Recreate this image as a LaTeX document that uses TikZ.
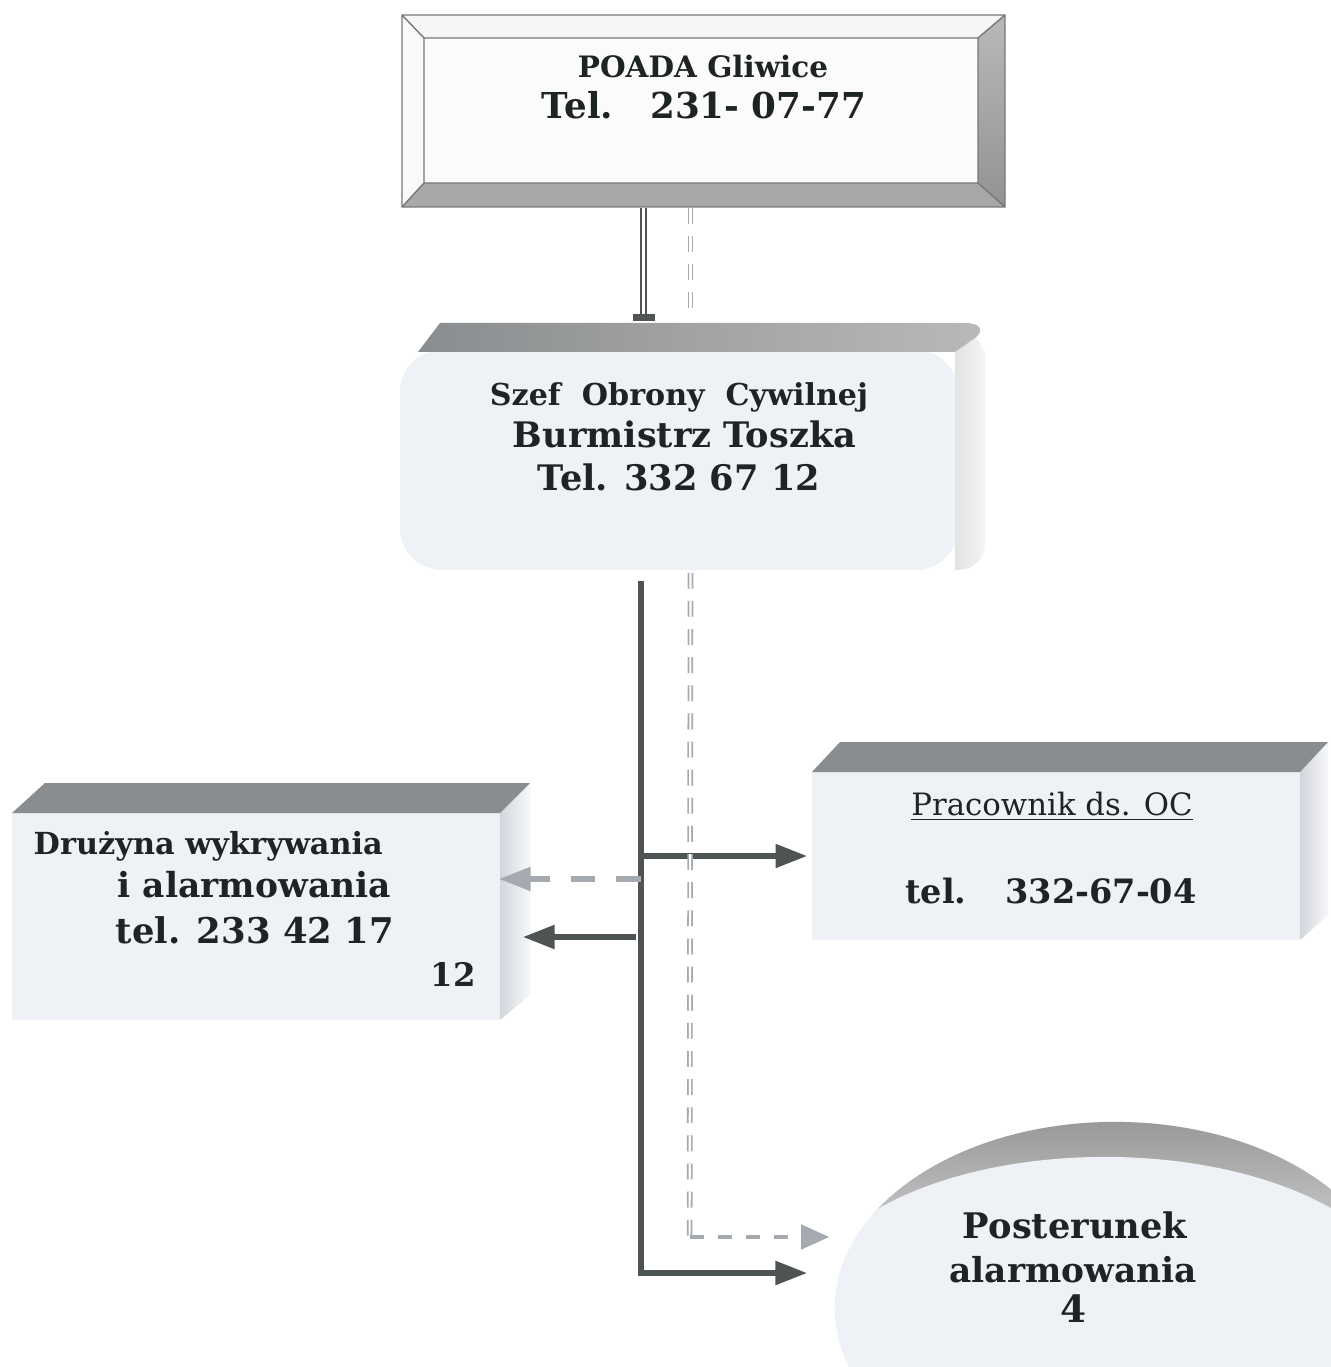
\documentclass[tikz,border=0pt]{standalone}
\usepackage{fontspec}
\setmainfont{DejaVu Serif}
\usetikzlibrary{arrows.meta,calc,shapes.geometric}
\definecolor{ink}{RGB}{30,35,35}
\definecolor{conn}{RGB}{78,84,84}
\definecolor{dconn}{RGB}{165,170,176}
\definecolor{face}{RGB}{238,241,245}
\definecolor{topface}{RGB}{138,141,143}
\definecolor{sidef}{RGB}{210,214,220}
\definecolor{edge}{RGB}{120,120,120}
\newcommand\fitw[2]{\resizebox{#1}{!}{#2}}
\begin{document}
\begin{tikzpicture}[x=0.01cm,y=-0.01cm,
  txt/.style={inner sep=0pt,text=ink,font=\bfseries},
  holder/.style={inner sep=0pt,draw=none,rectangle},
  solidarr/.style={draw=conn,line width=1.6pt,-{Triangle[length=9pt,width=6.5pt]}},
  dasharr/.style={draw=dconn,line width=1.6pt,dash pattern=on 7pt off 6pt,-{Triangle[length=9pt,width=6.5pt]}},
  thindash/.style={draw=dconn,line width=0.9pt,dash pattern=on 4pt off 4pt,-{Triangle[length=8pt,width=7pt]}},
  dline/.style={draw=dconn,line width=0.5pt,double=white,double distance=0.6pt,dash pattern=on 4.5pt off 3.5pt},
  bar/.style={draw=conn,line width=0.6pt,double=white,double distance=0.8pt},
]
\useasboundingbox (0,0) rectangle (1331,1367);
\fill[white] (0,0) rectangle (1331,1367);

% ---------- top box (bevelled frame)
\node[holder,minimum width=6.03cm,minimum height=1.92cm] (poada) at (703.5,111) {};
\fill[gray!3] (402,15) rectangle (1005,207);
\fill[gray!7] (402,15) -- (1005,15) -- (978,38) -- (424,38) -- cycle;
\fill[gray!5] (402,15) -- (424,38) -- (424,183) -- (402,207) -- cycle;
\shade[top color=gray!55,bottom color=gray!85] (1005,15) -- (1005,207) -- (978,183) -- (978,38) -- cycle;
\fill[gray!68] (402,207) -- (1005,207) -- (978,183) -- (424,183) -- cycle;
\draw[edge,line width=0.4pt] (402,15) rectangle (1005,207) (424,38) rectangle (978,183)
  (402,15) -- (424,38) (1005,15) -- (978,38) (1005,207) -- (978,183) (402,207) -- (424,183);

% ---------- second box (3D block)
\node[holder,minimum width=5.85cm,minimum height=2.48cm] (szef) at (692.5,446) {};
\fill[face,rounded corners=12pt] (400,350) rectangle (958,570);
\shade[left color=gray!22,right color=gray!8] (955,352) -- (975,336) -- (985,352) -- (985,540) .. controls (985,560) and (975,570) .. (955,570) -- cycle;
\shade[left color=topface,right color=gray!55] (418,352) -- (440,323) -- (965,323) .. controls (980,323) and (985,330) .. (975,338) -- (955,352) -- cycle;

% ---------- left box
\node[holder,minimum width=4.88cm,minimum height=2.07cm] (druz) at (256,916.5) {};
\fill[face] (12,813) rectangle (500,1020);
\shade[left color=sidef,right color=gray!6] (500,813) -- (530,783) -- (530,995) -- (500,1020) -- cycle;
\fill[topface] (45,783) -- (530,783) -- (500,813) -- (12,813) -- cycle;

% ---------- right box
\node[holder,minimum width=4.88cm,minimum height=1.68cm] (prac) at (1056,856) {};
\fill[face] (812,772) rectangle (1300,940);
\shade[left color=sidef,right color=gray!6] (1300,772) -- (1328,742) -- (1328,915) -- (1300,940) -- cycle;
\fill[topface] (840,742) -- (1328,742) -- (1300,772) -- (812,772) -- cycle;

% ---------- bottom right rounded post
\node[ellipse,inner sep=0pt,minimum width=5.6cm,minimum height=3.72cm] (post) at (1115,1308) {};
\begin{scope}
  \clip (1115,1308) ellipse [x radius=2.8cm,y radius=1.86cm];
  \fill[face] (1115,1308) ellipse [x radius=2.8cm,y radius=1.86cm];
  \shade[top color=gray!82,bottom color=gray!50] (800,1115) rectangle (1340,1210);
  \fill[face] (1105,1307) ellipse [x radius=3cm,y radius=1.5cm];
\end{scope}

% ---------- connectors
\draw[bar] ($(poada.south)+(-60,0)$) -- ($(szef.north)+(-49,-6)$);
\fill[conn] ($(szef.north)+(-59.5,-7)$) rectangle ($(szef.north)+(-37.5,0)$);
\draw[dline] ($(poada.south)+(-13,0)$) -- ($(szef.north)+(-2,-7)$);

\coordinate (trunk) at ($(szef.south)+(-51.5,10)$);
\draw[solidarr] (trunk) |- ($(post.west)+(-27,-35)$);
\draw[solidarr] (trunk |- prac.west) -- ($(prac.west)+(-4,0)$);
\coordinate (dl) at ($(druz.east)+(-2,-37.5)$);
\draw[dasharr] (trunk |- dl) -- (dl);
\coordinate (sl) at ($(druz.east)+(22,20.5)$);
\draw[solidarr] ($(trunk |- sl)+(-5,0)$) -- (sl);

\coordinate (dc) at ($(post.west)+(-144.5,-71)$);
\draw[dline] ($(szef.south)+(-2,2)$) -- (dc);
\draw[thindash] (dc) -- ($(post.west)+(-5,-71)$);

% ---------- texts
\node[txt,anchor=base] (t1) at (703,78) {\fitw{2.5cm}{POADA Gliwice}};
\node[txt,anchor=base] (t2) at (704,119) {\fitw{3.24cm}{Tel.~~~231- 07-77}};
\node[txt,anchor=base] (t3) at (679,405) {\fitw{3.78cm}{Szef~ Obrony~ Cywilnej}};
\node[txt,anchor=base] (t4) at (684.5,448) {\fitw{3.43cm}{Burmistrz Toszka}};
\node[txt,anchor=base] (t5) at (679,491) {\fitw{2.82cm}{Tel. 332 67 12}};
\node[txt,anchor=base west] (t6) at (33,854) {\fitw{3.49cm}{Drużyna wykrywania}};
\node[txt,anchor=base west] (t7) at (117,897) {\fitw{2.73cm}{i alarmowania}};
\node[txt,anchor=base west] (t8) at (115,943) {\fitw{2.78cm}{tel. 233 42 17}};
\node[txt,anchor=base west] (t9) at (430,986) {\fitw{0.45cm}{12}};
\node[txt,anchor=base,font=\mdseries] (t10) at (1052,815) {\fitw{2.81cm}{\underline{Pracownik ds. OC}}};
\node[txt,anchor=base] (t11) at (1051,903) {\fitw{2.91cm}{tel.~~ 332-67-04}};
\node[txt,anchor=base] (t12) at (1075,1238) {\fitw{2.24cm}{Posterunek}};
\node[txt,anchor=base] (t13) at (1073,1282) {\fitw{2.47cm}{alarmowania}};
\node[txt,anchor=base] (t14) at (1073,1322) {\fitw{0.26cm}{4}};
\end{tikzpicture}
\end{document}
